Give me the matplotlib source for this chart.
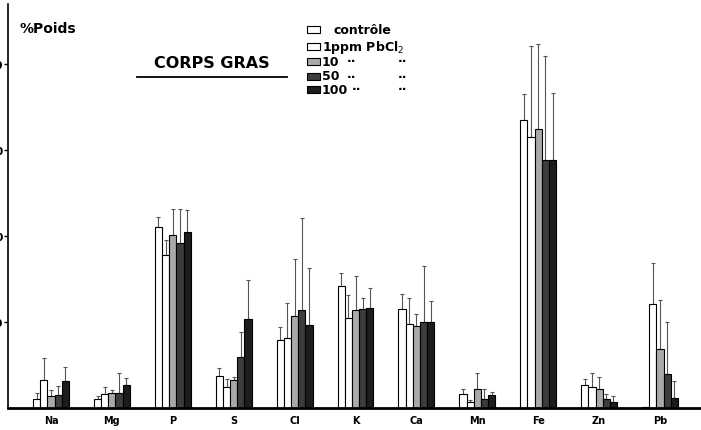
import numpy as np
import matplotlib
matplotlib.use("Agg")
import matplotlib.pyplot as plt
from matplotlib.patches import Rectangle

# ------------------------------------------------------------
# données (% poids)
# ------------------------------------------------------------
elements = ["Na", "Mg", "P", "S", "Cl", "K", "Ca", "Mn", "Fe", "Zn", "Pb"]

controle = [1.0, 1.0, 21.0, 3.7, 7.9, 14.2, 11.5, 1.6, 33.5, 2.7, 0.1]
ppm1     = [3.3, 1.6, 17.8, 2.4, 8.2, 10.5, 9.8, 0.7, 31.5, 2.4, 12.1]
ppm10    = [1.4, 1.8, 20.1, 3.2, 10.7, 11.4, 9.5, 2.2, 32.4, 2.2, 6.9]
ppm50    = [1.5, 1.7, 19.2, 5.9, 11.4, 11.5, 10.0, 1.0, 28.8, 1.0, 4.0]
ppm100   = [3.1, 2.7, 20.5, 10.3, 9.6, 11.6, 10.0, 1.5, 28.8, 0.7, 1.2]

# haut des barres d'erreur
controle_err = [1.8, 1.4, 22.2, 4.6, 9.4, 15.7, 13.3, 2.2, 36.5, 3.4, 0.1]
ppm1_err     = [5.8, 2.5, 19.5, 3.4, 12.2, 13.1, 12.8, 0.9, 42.1, 4.1, 16.9]
ppm10_err    = [2.1, 2.1, 23.1, 3.6, 17.3, 15.3, 10.9, 4.1, 42.4, 3.6, 12.6]
ppm50_err    = [2.6, 4.1, 23.1, 8.8, 22.1, 12.8, 16.5, 2.2, 41.0, 1.6, 10.0]
ppm100_err   = [4.8, 3.5, 23.0, 14.9, 16.3, 14.0, 12.4, 1.9, 36.6, 1.4, 3.1]

y_ticks = [10, 20, 30, 40]

# ------------------------------------------------------------
series = [controle, ppm1, ppm10, ppm50, ppm100]
tops = [controle_err, ppm1_err, ppm10_err, ppm50_err, ppm100_err]
colors = ["white", "white", "#a9a9a9", "#3c3c3c", "#1c1c1c"]

W, H = 701, 431
fig = plt.figure(figsize=(W / 100, H / 100), dpi=100)
ax = fig.add_axes([8 / W, 22 / H, 1 - 8 / W, (409 - 5) / H])

x = np.arange(len(elements))
bw = 0.118
for k, (vals, top, col) in enumerate(zip(series, tops, colors)):
    pos = x + (k - 2) * bw
    vals = np.array(vals)
    err = np.array(top) - vals
    ax.bar(pos, vals, width=bw, color=col, edgecolor="black", linewidth=0.8, zorder=2)
    ax.errorbar(pos, vals, yerr=[np.zeros_like(err), err], fmt="none",
                ecolor="#555555", elinewidth=0.8, capsize=1.5, capthick=0.8, zorder=1)

ax.set_xlim((8 - 51) / 60.9, (701 - 51) / 60.9)
ax.set_ylim(0, 47)
ax.set_xticks(x)
ax.set_xticklabels(elements, fontsize=7, fontweight="bold")
ax.tick_params(axis="x", length=0, pad=5)
ax.set_yticks(y_ticks)
ax.set_yticklabels([str(t) for t in y_ticks], fontsize=8, fontweight="bold")
ax.tick_params(axis="y", length=3, width=1, pad=0.5)

for s in ["top", "right"]:
    ax.spines[s].set_visible(False)
ax.spines["left"].set_linewidth(1.2)
ax.spines["bottom"].set_linewidth(2.0)

# textes
fig.text(20 / W, 1 - 29 / H, "%Poids", fontsize=10, fontweight="bold", va="center")
fig.text(212 / W, 1 - 63 / H, "CORPS GRAS", fontsize=11.5, fontweight="bold",
         ha="center", va="center")
fig.add_artist(plt.Line2D([137 / W, 287 / W], [1 - 78 / H, 1 - 78 / H],
                          color="black", lw=1.3))

# légende faite main
leg_labels = ["contrôle", "1ppm PbCl$_2$", "10", "50", "100"]
leg_y = [30, 47, 62, 77, 90]
for k, (lab, yy, col) in enumerate(zip(leg_labels, leg_y, colors)):
    fig.add_artist(Rectangle((307 / W, 1 - (yy + 3.5) / H), 13 / W, 7 / H,
                             facecolor=col, edgecolor="black", lw=0.8,
                             transform=fig.transFigure))
    xt = 333 if k == 0 else 322
    fig.text(xt / W, 1 - yy / H, lab, fontsize=9, fontweight="bold", va="center")
    if k >= 2:
        fig.text((352 if k == 4 else 347) / W, 1 - yy / H, "··", fontsize=9,
                 fontweight="bold", va="center")
        fig.text(398 / W, 1 - yy / H, "··", fontsize=9, fontweight="bold", va="center")

fig.savefig("out.png", dpi=100)
